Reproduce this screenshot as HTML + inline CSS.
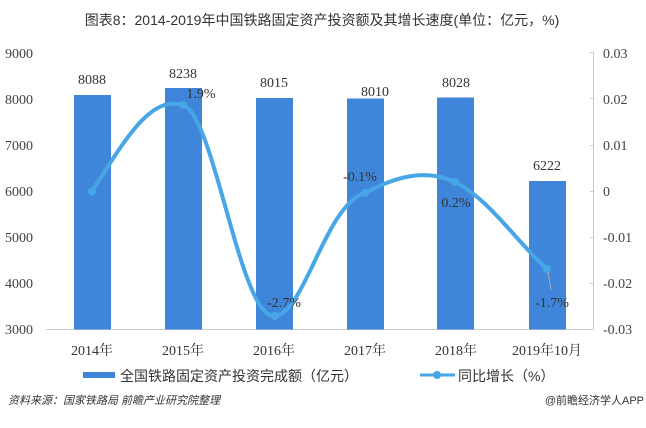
<!DOCTYPE html>
<html><head><meta charset="utf-8"><style>
body{margin:0;background:#fff;}
svg{display:block}
</style></head><body>
<svg width="646" height="428" viewBox="0 0 646 428" xmlns="http://www.w3.org/2000/svg">
<text x="322" y="25" text-anchor="middle" font-family="Liberation Sans, Noto Sans CJK SC, sans-serif" font-size="14" fill="#333">图表8：2014-2019年中国铁路固定资产投资额及其增长速度(单位：亿元，%)</text>
<g font-family="Liberation Serif, Noto Serif CJK SC, serif" font-size="14" fill="#444">
<text x="33" y="58" text-anchor="end">9000</text>
<text x="33" y="104" text-anchor="end">8000</text>
<text x="33" y="150" text-anchor="end">7000</text>
<text x="33" y="196" text-anchor="end">6000</text>
<text x="33" y="242" text-anchor="end">5000</text>
<text x="33" y="288" text-anchor="end">4000</text>
<text x="33" y="334" text-anchor="end">3000</text>
<text x="603" y="58">0.03</text>
<text x="603" y="104">0.02</text>
<text x="603" y="150">0.01</text>
<text x="603" y="196">0</text>
<text x="603" y="242">-0.01</text>
<text x="603" y="288">-0.02</text>
<text x="603" y="334">-0.03</text>
</g>
<line x1="46" y1="329.5" x2="593" y2="329.5" stroke="#ccc"/>
<line x1="593.5" y1="52" x2="593.5" y2="330" stroke="#ccc"/>
<g stroke="#ccc"><line x1="590" y1="52.5" x2="593" y2="52.5"/><line x1="590" y1="98.5" x2="593" y2="98.5"/><line x1="590" y1="145.5" x2="593" y2="145.5"/><line x1="590" y1="191.5" x2="593" y2="191.5"/><line x1="590" y1="237.5" x2="593" y2="237.5"/><line x1="590" y1="283.5" x2="593" y2="283.5"/></g>
<g fill="#3f86db">
<rect x="74" y="95" width="37" height="234.5"/>
<rect x="165" y="88" width="37" height="241.5"/>
<rect x="256" y="98" width="37" height="231.5"/>
<rect x="347" y="98.5" width="37" height="231"/>
<rect x="437" y="97.5" width="37" height="232"/>
<rect x="529" y="181" width="37" height="148.5"/>
</g>
<path d="M92,191.5 C125,140 150,95 183,105 C215,115 240,320 275,316 C305,313 325,205 365,193 C395,177 425,168 455,182 C490,200 515,240 547,269" fill="none" stroke="#47a6e6" stroke-width="4"/>
<g fill="#47a6e6"><circle cx="92" cy="191.5" r="4"/><circle cx="183" cy="105" r="4"/><circle cx="275" cy="316" r="4"/><circle cx="365" cy="193" r="4"/><circle cx="455" cy="182" r="4"/><circle cx="547" cy="269" r="4"/></g>
<line x1="548" y1="272" x2="551" y2="290" stroke="#aaa"/>
<g font-family="Liberation Serif, Noto Serif CJK SC, serif" font-size="14" fill="#333" text-anchor="middle">
<text x="92" y="84">8088</text>
<text x="183" y="78">8238</text>
<text x="274" y="87">8015</text>
<text x="375" y="96">8010</text>
<text x="456" y="87">8028</text>
<text x="547" y="170">6222</text>
<text x="201" y="98">1.9%</text>
<text x="284" y="307">-2.7%</text>
<text x="360" y="181">-0.1%</text>
<text x="456" y="207">0.2%</text>
<text x="552" y="307">-1.7%</text>
<text x="92" y="355">2014年</text>
<text x="183" y="355">2015年</text>
<text x="274" y="355">2016年</text>
<text x="365" y="355">2017年</text>
<text x="456" y="355">2018年</text>
<text x="547" y="355">2019年10月</text>
</g>
<rect x="83" y="372" width="32" height="6" fill="#3f86db"/>
<text x="120" y="381" font-family="Liberation Sans, Noto Sans CJK SC, sans-serif" font-size="14" fill="#333">全国铁路固定资产投资完成额（亿元）</text>
<line x1="420" y1="375" x2="455" y2="375" stroke="#47a6e6" stroke-width="3"/>
<circle cx="437" cy="375" r="4" fill="#47a6e6"/>
<text x="458" y="381" font-family="Liberation Sans, Noto Sans CJK SC, sans-serif" font-size="14" fill="#333">同比增长（%）</text>
<text x="8" y="404" font-family="Liberation Sans, Noto Sans CJK SC, sans-serif" font-size="11" font-style="italic" fill="#333">资料来源：国家铁路局 前瞻产业研究院整理</text>
<text x="644" y="404" text-anchor="end" font-family="Liberation Sans, Noto Sans CJK SC, sans-serif" font-size="11" fill="#333">@前瞻经济学人APP</text>
</svg>
</body></html>
